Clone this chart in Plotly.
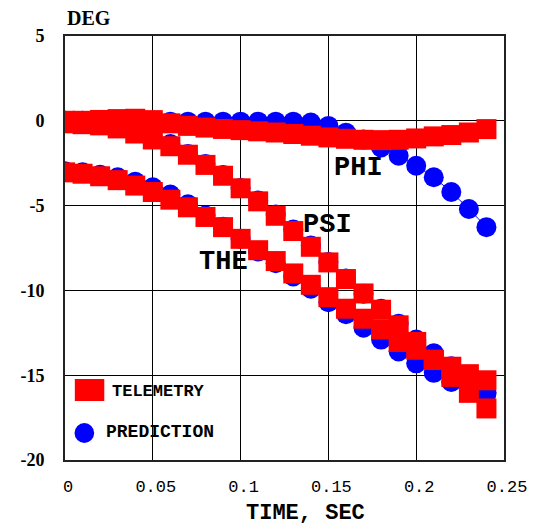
import plotly.graph_objects as go

time_sec = [0.00, 0.01, 0.02, 0.03, 0.04, 0.05, 0.06, 0.07, 0.08, 0.09, 0.10, 0.11, 0.12,
            0.13, 0.14, 0.15, 0.16, 0.17, 0.18, 0.19, 0.20, 0.21, 0.22, 0.23, 0.24]

phi_telemetry = [0.0, 0.0, 0.05, 0.1, 0.12, 0.04, -0.15, -0.3, -0.4, -0.48, -0.55, -0.62, -0.69,
                 -0.78, -0.88, -0.98, -1.06, -1.12, -1.14, -1.12, -1.04, -0.92, -0.84, -0.69, -0.49]
phi_prediction = [0.0, 0.0, 0.0, 0.0, 0.0, -0.02, -0.05, -0.05, -0.05, -0.05, -0.05, -0.05, -0.05,
                  -0.05, -0.1, -0.3, -0.7, -1.1, -1.57, -2.06, -2.65, -3.33, -4.2, -5.2, -6.27]

psi_telemetry = [-0.15, -0.2, -0.27, -0.45, -0.75, -1.1, -1.5, -2.0, -2.6, -3.24, -3.98, -4.75, -5.6,
                 -6.5, -7.43, -8.35, -9.33, -10.18, -11.14, -12.06, -13.04, -14.08, -15.1, -16.04, -16.96]
psi_prediction = [0.0, -0.05, -0.15, -0.35, -0.65, -1.0, -1.37, -1.96, -2.55, -3.2, -3.96, -4.7, -5.53,
                  -6.41, -7.35, -8.33, -9.3, -10.2, -11.08, -11.96, -12.9, -13.7, -14.47, -15.2, -16.0]

the_telemetry = [-3.04, -3.12, -3.27, -3.5, -3.82, -4.2, -4.65, -5.1, -5.67, -6.27, -6.96, -7.63, -8.27,
                 -9.0, -9.67, -10.4, -11.08, -11.67, -12.3, -13.04, -13.5, -14.1, -14.5, -14.94, -15.3]
the_prediction = [-2.98, -3.04, -3.18, -3.33, -3.59, -3.92, -4.35, -4.92, -5.59, -6.24, -6.95, -7.7, -8.4,
                  -9.18, -9.9, -10.7, -11.4, -12.2, -12.9, -13.6, -14.3, -14.86, -15.4, -15.8, -16.1]

x_tick_vals = [0, 0.05, 0.1, 0.15, 0.2, 0.25]
x_tick_text = ["0", "0.05", "0.1", "0.15", "0.2", "0.25"]
y_tick_vals = [5, 0, -5, -10, -15, -20]
y_tick_text = ["5", "0", "-5", "-10", "-15", "-20"]

curve_labels = ["PHI", "PSI", "THE"]
label_x = [0.1672, 0.1497, 0.0900]
label_y = [-2.78, -6.12, -8.35]

RED = "#ff0000"
BLUE = "#0000ff"
MONO = "Liberation Mono, Courier New, monospace"
SERIF = "Liberation Serif, Times New Roman, serif"

fig = go.Figure()

for pred in [phi_prediction, psi_prediction, the_prediction]:
    fig.add_trace(go.Scatter(
        x=time_sec, y=pred, mode="lines+markers",
        line=dict(color=BLUE, width=1),
        marker=dict(symbol="circle", size=20, color=BLUE),
        showlegend=False, hoverinfo="skip"))

for tel in [phi_telemetry, psi_telemetry, the_telemetry]:
    fig.add_trace(go.Scatter(
        x=time_sec, y=tel, mode="lines+markers",
        line=dict(color=RED, width=1),
        marker=dict(symbol="square", size=20, color=RED),
        showlegend=False, hoverinfo="skip"))

for txt, lx, ly in zip(curve_labels, label_x, label_y):
    fig.add_annotation(x=lx, y=ly, xref="x", yref="y", text="<b>%s</b>" % txt,
                       xanchor="center", yanchor="middle",
                       showarrow=False, font=dict(family=MONO, size=27, color="black"))

# page has an 8px body margin; plot area in page pixels: x 59..506, y 36..460
OFF = 8
W, H = 539 - OFF, 525 - OFF
PL, PR, PT, PB = 59, 506, 36, 460
L = PL - OFF
T = PT - OFF
R = W - (PR - OFF)
B = H - (PB - OFF)
PW, PH = PR - PL, PB - PT


def px(xp):
    return (xp - PL) / PW


def py(yp):
    return (PB - yp) / PH


def note(x, y, text, font, anchor="center"):
    fig.add_annotation(x=px(x), y=py(y), xref="paper", yref="paper", text=text,
                       xanchor=anchor, yanchor="middle", showarrow=False, font=font)


# axis titles
note(83.5, 18.5, "<b>DEG</b>", dict(family=SERIF, size=20, color="black"))
note(304, 514, "<b>TIME, SEC</b>", dict(family=MONO, size=22, color="black"))

# legend
fig.add_shape(type="rect", xref="paper", yref="paper",
              x0=px(69), x1=px(99), y0=py(401), y1=py(379),
              fillcolor=RED, line=dict(width=0))
fig.add_shape(type="circle", xref="paper", yref="paper",
              x0=px(68.7), x1=px(88.7), y0=py(443), y1=py(423),
              fillcolor=BLUE, line=dict(width=0))
note(105, 391, "<b>TELEMETRY</b>", dict(family=MONO, size=17, color="black"), "left")
note(99, 431.5, "<b>PREDICTION</b>", dict(family=MONO, size=18, color="black"), "left")

fig.update_layout(
    width=W, height=H,
    margin=dict(l=L, r=R, t=T, b=B),
    paper_bgcolor="white", plot_bgcolor="white",
    xaxis=dict(range=[0, 0.25], tickvals=x_tick_vals, ticktext=x_tick_text,
               showgrid=True, gridcolor="black", gridwidth=1, zeroline=False,
               showline=True, linecolor="#222", linewidth=2, mirror=True,
               ticks="", ticklabelstandoff=10, ticklabelshift=3,
               tickfont=dict(family=MONO, size=17, color="black")),
    yaxis=dict(range=[-20, 5], tickvals=y_tick_vals,
               ticktext=["<b>%s</b>" % t for t in y_tick_text],
               showgrid=True, gridcolor="black", gridwidth=1, zeroline=False,
               showline=True, linecolor="#222", linewidth=2, mirror=True,
               ticks="", ticklabelstandoff=15,
               tickfont=dict(family=SERIF, size=18, color="black")),
)

fig.write_html("out.html")
